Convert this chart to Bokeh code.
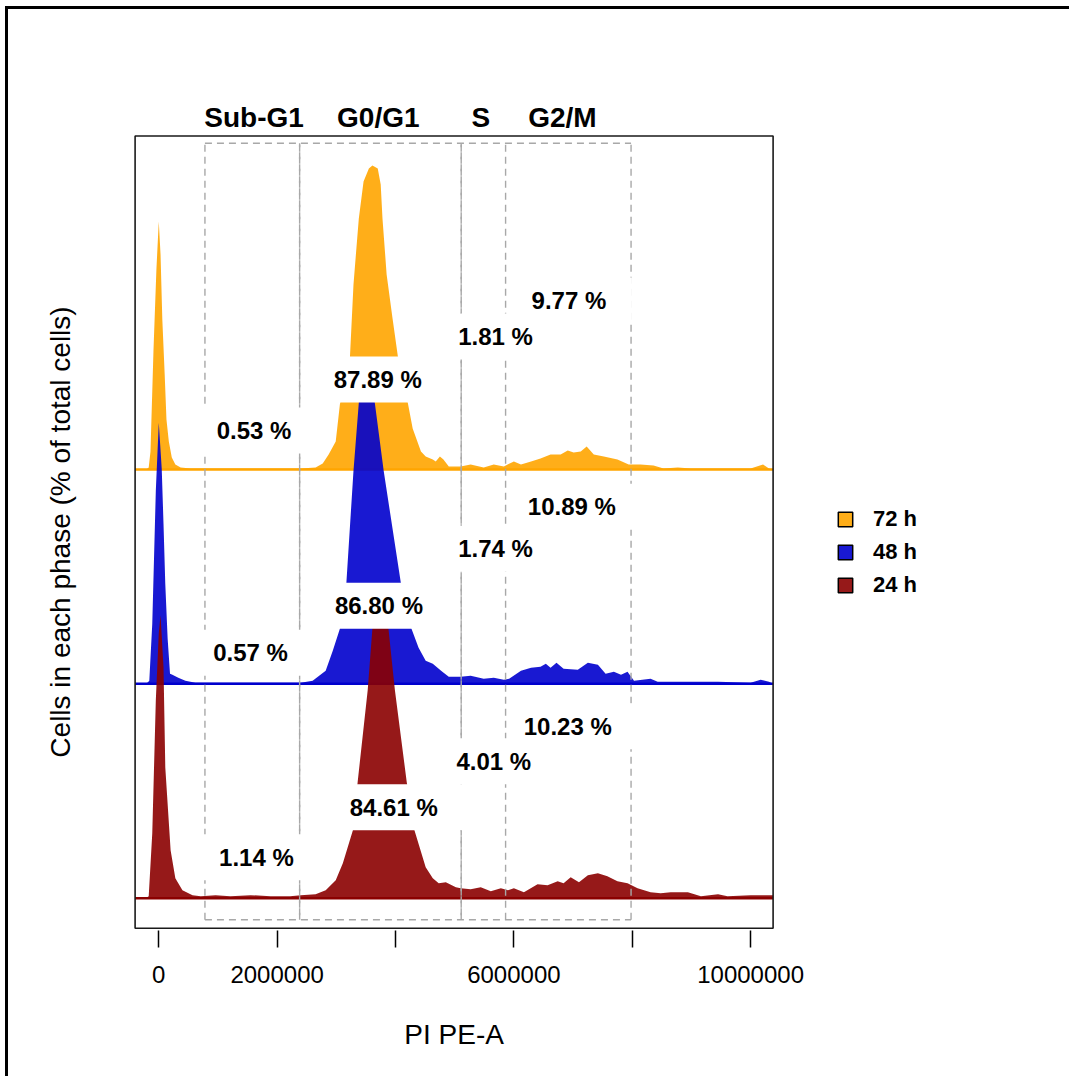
from bokeh.plotting import figure
from bokeh.models import Range1d, FixedTicker, Legend, LegendItem, LinearAxis
from bokeh.core.properties import value
from bokeh.embed import file_html
from bokeh.resources import INLINE

# ---------------- data (PI PE-A in millions, density heights) ----------------
x_72 = [-0.45, -0.21, -0.17, -0.14, -0.09, -0.04, 0.00, 0.03, 0.06, 0.10, 0.13, 0.17, 0.22, 0.28, 0.37, 0.54,
        1.55, 2.40, 2.65, 2.77, 2.87, 2.99, 3.06, 3.23, 3.29, 3.38, 3.46, 3.55, 3.61, 3.70, 3.75, 3.78, 3.85,
        3.95, 4.04, 4.21, 4.29, 4.43, 4.51, 4.63, 4.68, 4.75, 4.81, 4.90, 5.02, 5.10, 5.27, 5.49, 5.66, 5.83,
        6.00, 6.12, 6.29, 6.45, 6.62, 6.79, 6.91, 7.01, 7.13, 7.23, 7.35, 7.52, 7.75, 7.94, 8.14, 8.36, 8.53,
        8.77, 8.99, 10.00, 10.21, 10.31, 10.45]
h_72 = [0, 0, 2, 18, 118, 200, 248, 215, 150, 95, 50, 28, 12, 5, 2, 1,
        1, 1, 2, 6, 15, 28, 65, 112, 185, 251, 288, 301, 304, 301, 285, 251, 195,
        151, 113, 66, 41, 18, 13, 10, 8, 13, 10, 3, 3, 3, 5, 2, 5, 3,
        8, 5, 8, 11, 15, 15, 19, 17, 18, 23, 15, 13, 10, 5, 5, 4, 1,
        2, 1, 1, 5, 1, 0]

x_48 = [-0.45, -0.21, -0.16, -0.11, -0.05, 0.00, 0.05, 0.08, 0.11, 0.15, 0.19, 0.23, 0.33, 0.45, 0.62,
        2.40, 2.60, 2.82, 2.94, 3.06, 3.17, 3.29, 3.38, 3.44, 3.51, 3.58, 3.65, 3.80, 4.09, 4.27, 4.39,
        4.51, 4.63, 4.77, 4.90, 5.02, 5.10, 5.27, 5.49, 5.66, 5.83, 5.92, 6.12, 6.29, 6.45, 6.54, 6.62,
        6.72, 6.84, 7.08, 7.25, 7.42, 7.55, 7.69, 7.81, 7.92, 8.03, 8.31, 8.43, 8.87, 9.45, 10.00, 10.17,
        10.31, 10.45]
h_48 = [0, 0, 3, 60, 193, 261, 215, 160, 100, 45, 10, 9, 6, 3, 1,
        1, 3, 13, 33, 55, 101, 213, 281, 305, 318, 305, 281, 213, 101, 55, 36,
        23, 20, 13, 7, 7, 7, 8, 5, 6, 4, 5, 13, 16, 17, 20, 16,
        21, 15, 14, 21, 19, 10, 12, 9, 12, 3, 5, 2, 2, 2, 1, 4,
        2, 0]

x_24 = [-0.45, -0.22, -0.17, -0.11, -0.05, 0.00, 0.03, 0.08, 0.11, 0.20, 0.28, 0.40, 0.57, 0.71, 0.96,
        1.21, 1.55, 1.89, 2.22, 2.40, 2.65, 2.82, 2.99, 3.11, 3.28, 3.36, 3.53, 3.61, 3.68, 3.75, 3.82,
        3.88, 3.99, 4.19, 4.32, 4.51, 4.63, 4.73, 4.85, 5.02, 5.10, 5.27, 5.44, 5.61, 5.78, 5.90, 6.00,
        6.17, 6.40, 6.57, 6.74, 6.84, 6.96, 7.10, 7.25, 7.42, 7.58, 7.75, 7.92, 8.09, 8.31, 8.48, 8.65,
        8.94, 9.16, 9.45, 9.61, 10.00, 10.31, 10.45]
h_24 = [0, 0, 2, 65, 198, 265, 283, 231, 131, 48, 20, 8, 3, 2, 3,
        2, 3, 2, 2, 3, 4, 8, 18, 35, 68, 116, 208, 270, 295, 308, 295,
        270, 208, 116, 68, 31, 20, 15, 16, 11, 10, 9, 11, 7, 10, 8, 10,
        6, 14, 13, 17, 15, 21, 16, 23, 25, 22, 17, 15, 10, 6, 5, 6,
        6, 2, 4, 2, 3, 3, 3]

series_names = ["72 h", "48 h", "24 h"]
phase_names = ["Sub-G1", "G0/G1", "S", "G2/M"]
gate_bounds = [0.78, 2.38, 5.11, 5.86, 7.98]
pct_72 = [0.53, 87.89, 1.81, 9.77]
pct_48 = [0.57, 86.80, 1.74, 10.89]
pct_24 = [1.14, 84.61, 4.01, 10.23]
tick_values = [0, 2000000, 4000000, 6000000, 8000000, 10000000]
tick_labels = ["0", "2000000", "", "6000000", "", "10000000"]

# ---------------- layout / style ----------------
UNIT = 1e6
colors = {"72 h": "#FFA500", "48 h": "#0000CD", "24 h": "#8B0000"}
offsets = {"72 h": 428.8, "48 h": 214.4, "24 h": 0.0}
# label anchor (x in millions, height above own baseline)
label_pos = {
    "72 h": [(1.61, 39), (3.70, 90), (5.69, 133), (6.93, 169)],
    "48 h": [(1.55, 31), (3.72, 78), (5.69, 135), (6.98, 177)],
    "24 h": [(1.65, 41), (3.97, 91), (5.66, 137), (6.91, 172)],
}
phase_label_x = [1.61, 3.71, 5.44, 6.82]
gate_top, gate_bottom = 755.0, -21.6
# plot box (data) and its pixel size
BX0, BX1 = -0.40 * UNIT, 10.38 * UNIT
BY0, BY1 = -30.0, 762.2
BOX_W = 638
PX_PER_X = BOX_W / (BX1 - BX0)

W, H = 1064, 1070
ML, MT = 125, 124            # frame starts ~2px outside the box
FRAME_W, FRAME_H = W - ML, 797
PAD_L, PAD_T = 1.6, 2.5      # px between frame edge and box
X_LO = BX0 - PAD_L / PX_PER_X
X_HI = X_LO + FRAME_W / PX_PER_X
Y_HI = BY1 + PAD_T
Y_LO = Y_HI - FRAME_H

p = figure(width=W, height=H, output_backend="svg", toolbar_location=None,
           x_range=Range1d(X_LO, X_HI), y_range=Range1d(Y_LO, Y_HI),
           min_border_left=ML, min_border_top=MT,
           min_border_right=0, min_border_bottom=H - MT - FRAME_H,
           margin=(6, 0, 0, 5))
p.styles = {"border-top": "3px solid black", "border-left": "3px solid black"}
xa = p.below[0]
ya = p.left[0]
p.xgrid.visible = False
p.ygrid.visible = False
p.outline_line_color = None
p.background_fill_color = "white"
p.border_fill_color = "white"

data = {"72 h": (x_72, h_72), "48 h": (x_48, h_48), "24 h": (x_24, h_24)}
pcts = {"72 h": pct_72, "48 h": pct_48, "24 h": pct_24}

for name in series_names:
    xs, hs = data[name]
    base = offsets[name]
    xx = [min(max(v * UNIT, BX0), BX1) for v in xs]
    p.varea(x=xx, y1=[base] * len(xx), y2=[base + h for h in hs],
            fill_color=colors[name], fill_alpha=0.9)
    p.line(x=xx, y=[base] * len(xx), line_color=colors[name], line_width=2.5)

# gates: dashed rectangles (shared inner edges of Sub-G1|G0/G1 and G0/G1|S drawn twice)
gx = [v * UNIT for v in gate_bounds]
GREY = "#A8A8A8"
p.segment(x0=gx, y0=[gate_bottom] * 5, x1=gx, y1=[gate_top] * 5,
          line_color=GREY, line_width=1.4, line_dash="7 5")
p.segment(x0=gx[1:3], y0=[gate_top] * 2, x1=gx[1:3], y1=[gate_bottom] * 2,
          line_color=GREY, line_width=1.4, line_dash="7 5", line_dash_offset=3)
p.segment(x0=[gx[0], gx[0]], y0=[gate_top, gate_bottom], x1=[gx[-1], gx[-1]],
          y1=[gate_top, gate_bottom], line_color=GREY, line_width=1.4, line_dash="7 5")

# percent labels with white boxes
bx_l, bx_r, bx_t, bx_b, tx, ty, tt = [], [], [], [], [], [], []
for name in series_names:
    for (lx, dy), v in zip(label_pos[name], pcts[name]):
        s = "%.2f %%" % v
        w = 13 * len(s)
        cx = lx * UNIT
        cy = offsets[name] + dy
        bx_l.append(cx - (w / 2 + 14) / PX_PER_X)
        bx_r.append(cx + (w / 2 + 24) / PX_PER_X)
        bx_t.append(cy + 23)
        bx_b.append(cy - 23)
        tx.append(cx)
        ty.append(cy)
        tt.append(s)
p.quad(left=bx_l, right=bx_r, top=bx_t, bottom=bx_b, fill_color="white", line_color=None)
p.text(x=tx, y=ty, text=tt, text_align="center", text_baseline="middle",
       text_font=value("Liberation Sans"), text_font_style="bold",
       text_font_size="24px", text_color="black")

# plot box
p.quad(left=[BX0], right=[BX1], top=[BY1], bottom=[BY0], fill_color=None,
       line_color="#1a1a1a", line_width=1.6)

# phase names as an axis above the frame
top_ax = LinearAxis(ticker=FixedTicker(ticks=[v * UNIT for v in phase_label_x]))
top_ax.major_label_overrides = {v * UNIT: nm for v, nm in zip(phase_label_x, phase_names)}
top_ax.axis_line_color = None
top_ax.major_tick_line_color = None
top_ax.minor_tick_line_color = None
top_ax.major_tick_in = 0
top_ax.major_tick_out = 0
top_ax.major_label_standoff = 1
top_ax.major_label_text_font = "Liberation Sans"
top_ax.major_label_text_font_style = "bold"
top_ax.major_label_text_font_size = "28px"
top_ax.major_label_text_color = "black"
p.add_layout(top_ax, "above")

# bottom axis
xa.ticker = FixedTicker(ticks=tick_values)
xa.major_label_overrides = {v: s for v, s in zip(tick_values, tick_labels)}
xa.axis_line_color = None
xa.major_tick_in = 0
xa.major_tick_out = 17
xa.major_tick_line_width = 1.5
xa.major_tick_line_color = "black"
xa.minor_tick_line_color = None
xa.major_label_standoff = 18
xa.major_label_text_font = "Liberation Sans"
xa.major_label_text_font_size = "24px"
xa.major_label_text_color = "black"

# x-axis title, centred under the plot box
XC = (BX0 + BX1) / 2
title_ax = LinearAxis(ticker=FixedTicker(ticks=[XC]))
title_ax.major_label_overrides = {XC: "PI PE-A"}
title_ax.axis_line_color = None
title_ax.major_tick_line_color = None
title_ax.minor_tick_line_color = None
title_ax.major_tick_in = 0
title_ax.major_tick_out = 0
title_ax.major_label_standoff = 33
title_ax.major_label_text_font = "Liberation Sans"
title_ax.major_label_text_font_size = "28px"
title_ax.major_label_text_color = "black"
p.add_layout(title_ax, "below")

ya.ticker = FixedTicker(ticks=[])
ya.axis_line_color = None
ya.major_tick_line_color = None
ya.minor_tick_line_color = None
ya.major_tick_out = 0
ya.major_tick_in = 0
ya.axis_label = "Cells in each phase (% of total cells)"
ya.axis_label_text_font = "Liberation Sans"
ya.axis_label_text_font_style = "normal"
ya.axis_label_text_font_size = "28px"
ya.axis_label_text_color = "black"
ya.axis_label_standoff = 58

# legend (inside the wide frame, right of the plot box)
items = []
for name in series_names:
    r = p.quad(left=[gx[0]], right=[gx[1]], top=[gate_top], bottom=[gate_bottom],
               fill_color=colors[name], fill_alpha=0.9,
               line_color="black", line_width=1.5, visible=False)
    items.append(LegendItem(label=name, renderers=[r]))
legend = Legend(items=items, location=(703, 332), padding=0, margin=0, spacing=7,
                glyph_width=18, glyph_height=18, label_height=25, label_standoff=19,
                border_line_color=None, background_fill_alpha=0,
                inactive_fill_alpha=0, click_policy="none",
                label_text_font="Liberation Sans", label_text_font_style="bold",
                label_text_font_size="22px", label_text_color="black")
p.add_layout(legend, "center")

open("out.html", "w").write(file_html(p, INLINE))
